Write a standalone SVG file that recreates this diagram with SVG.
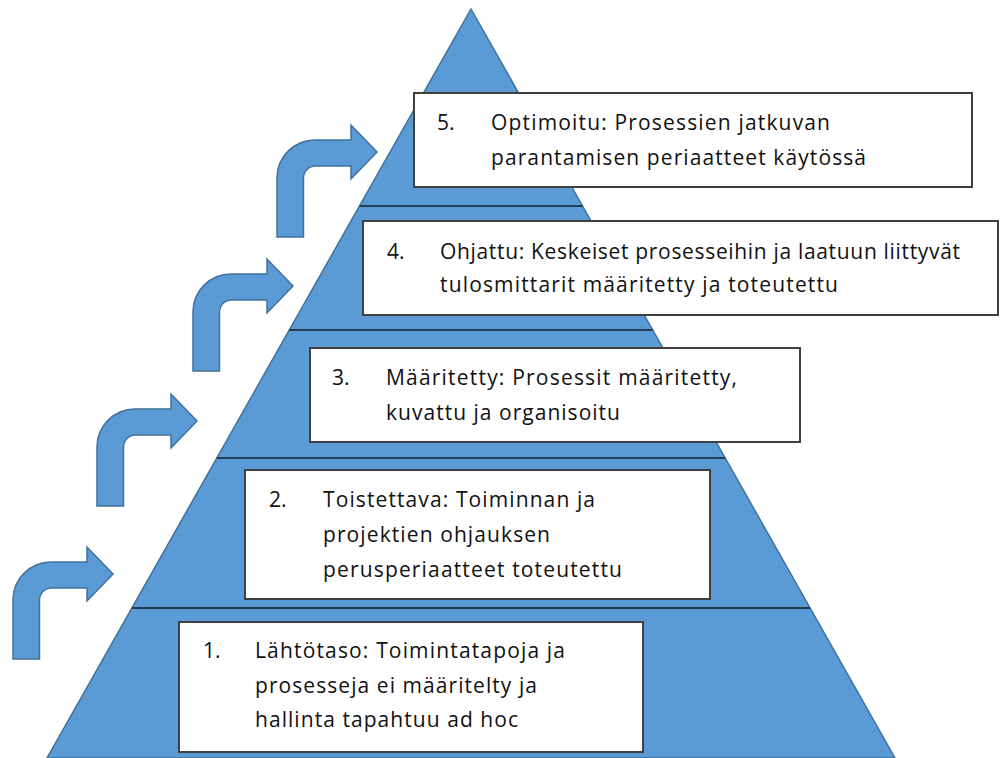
<svg xmlns="http://www.w3.org/2000/svg" width="1000" height="758" viewBox="0 0 1000 758">
  <style>
    .tri { fill: #5B9BD5; stroke: #41719C; stroke-width: 1.5; }
    .tier { stroke: #253C55; stroke-width: 2; }
    .arrow { fill: #5B9BD5; stroke: #41719C; stroke-width: 1.5; stroke-linejoin: miter; }
    .box { fill: #FFFFFF; stroke: #404040; stroke-width: 2; }
    .lbl { font-family: "Open Sans", Lato, "Liberation Sans", sans-serif; font-size: 21px; fill: #111111; font-variant-ligatures: none; }
  </style>
  <defs>
    <!-- bent arrow: rises from the bottom of the stem, turns right, ends in a head -->
    <path id="bent" d="M0,112 L0,53 A38,38 0 0 1 38,15 L74,15 L74,0 L100,27 L74,54 L74,41 L38.5,41 A12,12 0 0 0 26.5,53 L26.5,112 Z"/>
  </defs>

  <!-- pyramid with tier dividers -->
  <g id="pyramid">
    <polygon class="tri" points="471,9 895,758 47,758"/>
    <line class="tier" x1="359.5" y1="206" x2="582.5" y2="206"/>
    <line class="tier" x1="289.3" y1="330" x2="652.7" y2="330"/>
    <line class="tier" x1="216.8" y1="458" x2="725.2" y2="458"/>
    <line class="tier" x1="131.9" y1="608" x2="810.1" y2="608"/>
  </g>

  <!-- step arrows climbing the left side -->
  <g id="connectors">
    <use href="#bent" class="arrow" transform="translate(13,547)"/>
    <use href="#bent" class="arrow" transform="translate(97,394)"/>
    <use href="#bent" class="arrow" transform="translate(193,259)"/>
    <use href="#bent" class="arrow" transform="translate(277,125)"/>
  </g>

  <g id="level5">
    <rect class="box" x="414" y="93" width="558" height="94"/>
    <text class="lbl" x="437" y="130">5.</text>
    <text class="lbl" x="491" y="130" textLength="339">Optimoitu: Prosessien jatkuvan</text>
    <text class="lbl" x="491" y="165" textLength="375">parantamisen periaatteet käytössä</text>
  </g>

  <g id="level4">
    <rect class="box" x="363" y="221" width="635" height="94"/>
    <text class="lbl" x="387" y="259">4.</text>
    <text class="lbl" x="440" y="259" textLength="520">Ohjattu: Keskeiset prosesseihin ja laatuun liittyvät</text>
    <text class="lbl" x="440" y="292" textLength="398">tulosmittarit määritetty ja toteutettu</text>
  </g>

  <g id="level3">
    <rect class="box" x="310" y="348" width="490" height="94"/>
    <text class="lbl" x="332" y="385">3.</text>
    <text class="lbl" x="386" y="385" textLength="351">Määritetty: Prosessit määritetty,</text>
    <text class="lbl" x="386" y="420" textLength="234">kuvattu ja organisoitu</text>
  </g>

  <g id="level2">
    <rect class="box" x="245" y="470" width="465" height="129"/>
    <text class="lbl" x="269" y="507">2.</text>
    <text class="lbl" x="323" y="507" textLength="272">Toistettava: Toiminnan ja</text>
    <text class="lbl" x="323" y="542" textLength="227">projektien ohjauksen</text>
    <text class="lbl" x="323" y="577" textLength="299">perusperiaatteet toteutettu</text>
  </g>

  <g id="level1">
    <rect class="box" x="179" y="622" width="464" height="130"/>
    <text class="lbl" x="203" y="658">1.</text>
    <text class="lbl" x="255" y="658" textLength="310">Lähtötaso: Toimintatapoja ja</text>
    <text class="lbl" x="255" y="693" textLength="282">prosesseja ei määritelty ja</text>
    <text class="lbl" x="255" y="727" textLength="263">hallinta tapahtuu ad hoc</text>
  </g>
</svg>
